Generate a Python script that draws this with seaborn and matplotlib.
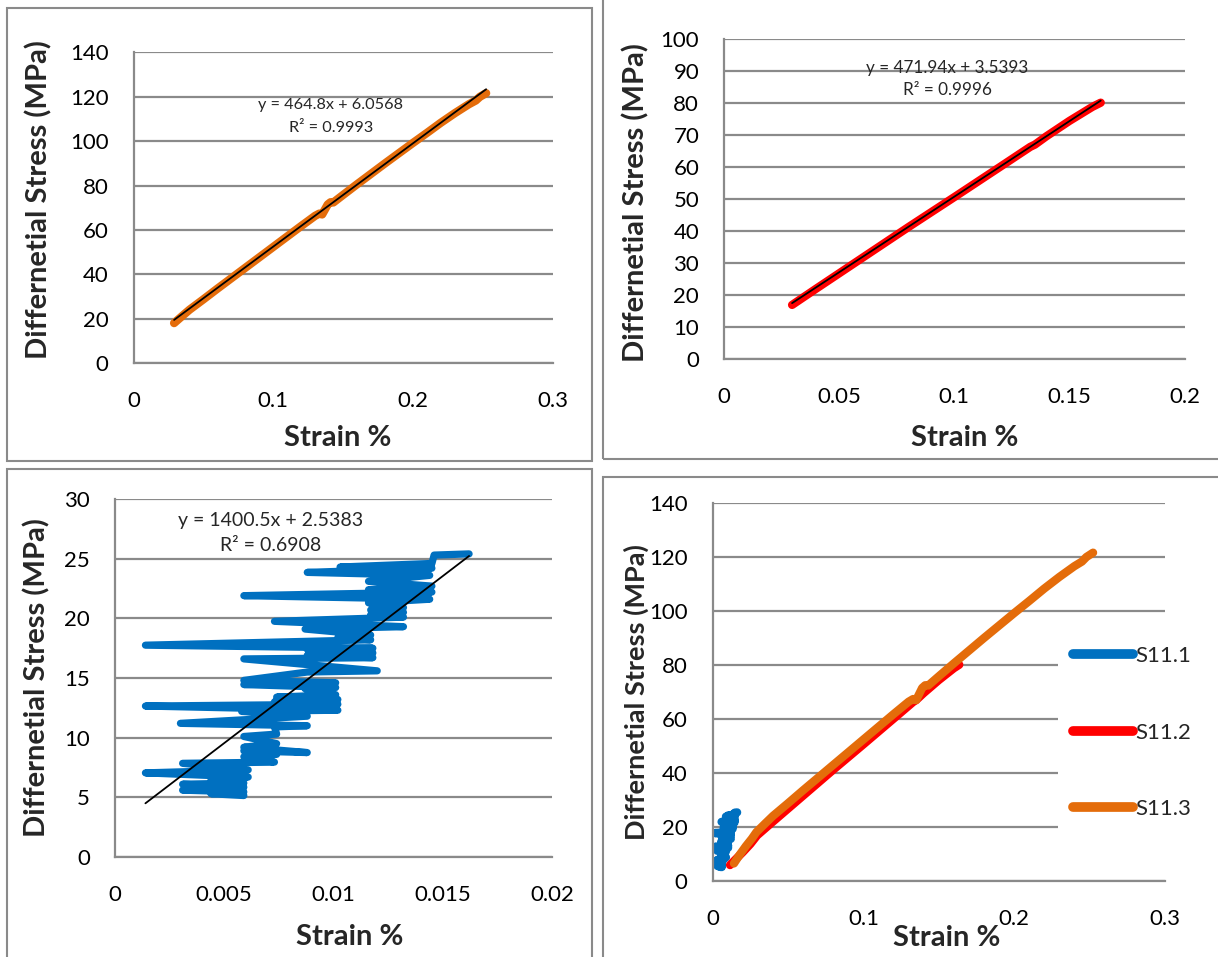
import numpy as np
import pandas as pd
import matplotlib
matplotlib.use("Agg")
import matplotlib.pyplot as plt
import seaborn as sns
from matplotlib.patches import Rectangle

# ---------------- data ----------------
s11_1_strain = [0.0059, 0.0044, 0.0059, 0.0031, 0.0059, 0.0031, 0.0059, 0.0044, 0.0061, 0.0014,
                0.0061, 0.0031, 0.0073, 0.0059, 0.0074, 0.0059, 0.0088, 0.0059, 0.0074, 0.0059,
                0.0074, 0.0073, 0.0088, 0.0030, 0.0088, 0.0058, 0.0102, 0.0014, 0.0102, 0.0073,
                0.0102, 0.0074, 0.0101, 0.0087, 0.0101, 0.0059, 0.0101, 0.0059, 0.0088, 0.0120,
                0.0059, 0.0118, 0.0088, 0.0118, 0.0088, 0.0118, 0.0014, 0.0117, 0.0102, 0.0117,
                0.0087, 0.0132, 0.0073, 0.0132, 0.0117, 0.0132, 0.0117, 0.0132, 0.0116, 0.0144,
                0.0059, 0.0145, 0.0116, 0.0145, 0.0116, 0.0144, 0.0088, 0.0145, 0.0103, 0.0145,
                0.0146, 0.0162]
s11_1_stress = [5.15, 5.3, 5.45, 5.6, 5.85, 6.1, 6.2, 6.5, 6.7, 7.05,
                7.3, 7.85, 7.95, 8.4, 8.6, 8.9, 8.75, 9.2, 9.5, 10.1,
                10.3, 10.9, 11.0, 11.2, 11.8, 12.2, 12.3, 12.65, 12.8, 13.0,
                13.2, 13.4, 13.6, 14.1, 14.2, 14.45, 14.6, 14.8, 15.5, 15.6,
                16.6, 16.7, 16.9, 17.1, 17.4, 17.5, 17.75, 18.2, 18.4, 18.6,
                19.1, 19.3, 19.75, 20.1, 20.3, 20.5, 20.7, 20.9, 21.3, 21.6,
                21.9, 22.2, 22.4, 22.7, 23.1, 23.6, 23.85, 24.2, 24.3, 24.6,
                25.3, 25.4]

s11_2_strain = [0.0115, 0.015, 0.02, 0.025, 0.0295, 0.04, 0.05, 0.06, 0.08, 0.10,
                0.12, 0.133, 0.135, 0.14, 0.15, 0.16, 0.1636]
s11_2_stress = [5.9, 7.9, 10.7, 13.7, 16.9, 22.0, 26.8, 31.6, 41.2, 50.6,
                60.1, 66.3, 67.0, 69.6, 74.4, 78.8, 80.1]

s11_3_strain = [0.0141, 0.018, 0.022, 0.026, 0.029, 0.035, 0.04, 0.05, 0.06, 0.07,
                0.08, 0.09, 0.10, 0.11, 0.12, 0.13, 0.133, 0.135, 0.139, 0.141,
                0.143, 0.15, 0.16, 0.17, 0.18, 0.19, 0.20, 0.21, 0.22, 0.23,
                0.24, 0.245, 0.248, 0.2524]
s11_3_stress = [6.5, 9.8, 12.9, 15.7, 18.1, 21.4, 24.1, 28.8, 33.6, 38.3,
                43.0, 47.7, 52.4, 57.1, 61.8, 66.4, 67.4, 67.0, 71.5, 72.5,
                72.4, 75.8, 80.6, 85.3, 90.0, 94.6, 99.2, 103.7, 108.3, 112.6,
                116.6, 118.3, 120.0, 121.6]

series_names = ["S11.1", "S11.2", "S11.3"]
series_colors = ["#0070C0", "#FF0000", "#E46C0A"]
trend_slope = [1400.5, 471.94, 464.8]
trend_intercept = [2.5383, 3.5393, 6.0568]
trend_eq = ["y = 1400.5x + 2.5383", "y = 471.94x + 3.5393", "y = 464.8x + 6.0568"]
trend_r2 = ["R² = 0.6908", "R² = 0.9996", "R² = 0.9993"]
fit_min_strain = [0.0, 0.029, 0.029]

x_label = "Strain %"
y_label = "Differnetial Stress (MPa)"

# ---------------- style ----------------
sns.set_theme(style="white")
plt.rcParams["font.family"] = ["Lato", "DejaVu Sans"]
GRID = "#8a8a8a"
W, H = 1218, 957
TICK_FS = 16
LINE_W = 6.0

fig = plt.figure(figsize=(W / 100, H / 100), dpi=100)

def px_axes(l, t, r, b):
    return fig.add_axes([l / W, 1 - b / H, (r - l) / W, (b - t) / H])

def frame_box(l, t, r, b):
    fig.add_artist(Rectangle((l / W, 1 - b / H), (r - l) / W, (b - t) / H,
                             transform=fig.transFigure, fill=False,
                             edgecolor=GRID, linewidth=1.5, zorder=0))

def style_axes(ax, xticks, xlabels, yticks):
    ax.set_xlim(xticks[0], xticks[-1])
    ax.set_ylim(yticks[0], yticks[-1])
    ax.set_xticks(xticks, xlabels)
    ax.set_yticks(yticks, [str(v) for v in yticks])
    ax.grid(axis="y", color=GRID, linewidth=1.6)
    ax.grid(axis="x", visible=False)
    ax.set_axisbelow(True)
    for s in ["top", "right"]:
        ax.spines[s].set_visible(False)
    for s in ["left", "bottom"]:
        ax.spines[s].set_color(GRID)
        ax.spines[s].set_linewidth(1.6)
    ax.tick_params(axis="y", length=0, pad=18, labelsize=TICK_FS, colors="black")
    ax.tick_params(axis="x", length=0, pad=20, labelsize=TICK_FS, colors="black")
    ax.patch.set_alpha(0)

def draw_series(ax, i):
    strains = [s11_1_strain, s11_2_strain, s11_3_strain][i]
    stresses = [s11_1_stress, s11_2_stress, s11_3_stress][i]
    df = pd.DataFrame({"strain": strains, "stress": stresses})
    df = df[df["strain"] >= fit_min_strain[i]]
    lw = 5.2 if i == 0 else LINE_W
    sns.lineplot(data=df, x="strain", y="stress", sort=False, estimator=None,
                 color=series_colors[i], linewidth=lw, ax=ax,
                 solid_capstyle="round", solid_joinstyle="round")
    xs = np.array([df["strain"].min(), df["strain"].max()])
    tdf = pd.DataFrame({"strain": xs, "stress": trend_slope[i] * xs + trend_intercept[i]})
    sns.lineplot(data=tdf, x="strain", y="stress", color="black", linewidth=1.3,
                 ax=ax, sort=False, estimator=None)

# ---------------- panel borders ----------------
frame_box(7, 8, 592, 461)
frame_box(603, -5, 1230, 459)
frame_box(7, 469, 592, 970)
frame_box(603, 477, 1230, 970)

# ---------------- top-left: S11.3 ----------------
ax1 = px_axes(133.6, 52.3, 552.6, 363.3)
draw_series(ax1, 2)
style_axes(ax1, [0, 0.1, 0.2, 0.3], ["0", "0.1", "0.2", "0.3"], list(range(0, 141, 20)))
ax1.set_xlabel(x_label, fontsize=21, fontweight="bold", va="center")
ax1.set_ylabel(y_label, fontsize=21, fontweight="bold", va="center")
ax1.xaxis.set_label_coords(0.487, -0.240)
ax1.yaxis.set_label_coords(-0.226, 0.525)
ax1.text(0.471, 0.8305, trend_eq[2], transform=ax1.transAxes, ha="center", va="center", fontsize=11.7)
ax1.text(0.471, 0.7566, trend_r2[2], transform=ax1.transAxes, ha="center", va="center", fontsize=11.7)

# ---------------- top-right: S11.2 ----------------
ax2 = px_axes(724.2, 39, 1184.5, 359)
draw_series(ax2, 1)
style_axes(ax2, [0, 0.05, 0.1, 0.15, 0.2], ["0", "0.05", "0.1", "0.15", "0.2"], list(range(0, 101, 10)))
ax2.set_xlabel(x_label, fontsize=21, fontweight="bold", va="center")
ax2.set_ylabel(y_label, fontsize=21, fontweight="bold", va="center")
ax2.xaxis.set_label_coords(0.522, -0.247)
ax2.yaxis.set_label_coords(-0.192, 0.4875)
ax2.text(0.484, 0.909, trend_eq[1], transform=ax2.transAxes, ha="center", va="center", fontsize=12.3)
ax2.text(0.484, 0.8406, trend_r2[1], transform=ax2.transAxes, ha="center", va="center", fontsize=12.3)

# ---------------- bottom-left: S11.1 ----------------
ax3 = px_axes(114.8, 499, 552.2, 857)
draw_series(ax3, 0)
style_axes(ax3, [0, 0.005, 0.01, 0.015, 0.02], ["0", "0.005", "0.01", "0.015", "0.02"], list(range(0, 31, 5)))
ax3.set_xlabel(x_label, fontsize=21, fontweight="bold", va="center")
ax3.set_ylabel(y_label, fontsize=21, fontweight="bold", va="center")
ax3.xaxis.set_label_coords(0.538, -0.223)
ax3.yaxis.set_label_coords(-0.178, 0.5)
ax3.text(0.357, 0.941, trend_eq[0], transform=ax3.transAxes, ha="center", va="center", fontsize=14)
ax3.text(0.357, 0.869, trend_r2[0], transform=ax3.transAxes, ha="center", va="center", fontsize=14)

# ---------------- bottom-right: all ----------------
ax4 = px_axes(712.7, 503, 1164.8, 881)
for i in range(3):
    sns.lineplot(x=[s11_1_strain, s11_2_strain, s11_3_strain][i],
                 y=[s11_1_stress, s11_2_stress, s11_3_stress][i],
                 sort=False, estimator=None, color=series_colors[i], linewidth=LINE_W,
                 solid_capstyle="round", solid_joinstyle="round",
                 label=series_names[i], ax=ax4)
style_axes(ax4, [0, 0.1, 0.2, 0.3], ["0", "0.1", "0.2", "0.3"], list(range(0, 141, 20)))
ax4.set_xlabel(x_label, fontsize=21, fontweight="bold", va="center")
ax4.set_ylabel(y_label, fontsize=19.5, fontweight="bold", va="center")
ax4.xaxis.set_label_coords(0.518, -0.151)
ax4.yaxis.set_label_coords(-0.170, 0.5)
leg = ax4.legend(loc="upper left", bbox_to_anchor=(1058 / W, 1 - 631 / H),
                 bbox_transform=fig.transFigure, frameon=True, facecolor="white",
                 edgecolor="none", framealpha=1, fontsize=16, handlelength=2.7,
                 handletextpad=0.1, labelspacing=2.55, borderpad=0.67, borderaxespad=0)
for ln in leg.get_lines():
    ln.set_linewidth(7)
    ln.set_solid_capstyle("round")

fig.savefig("out.png", dpi=100, facecolor="white")
